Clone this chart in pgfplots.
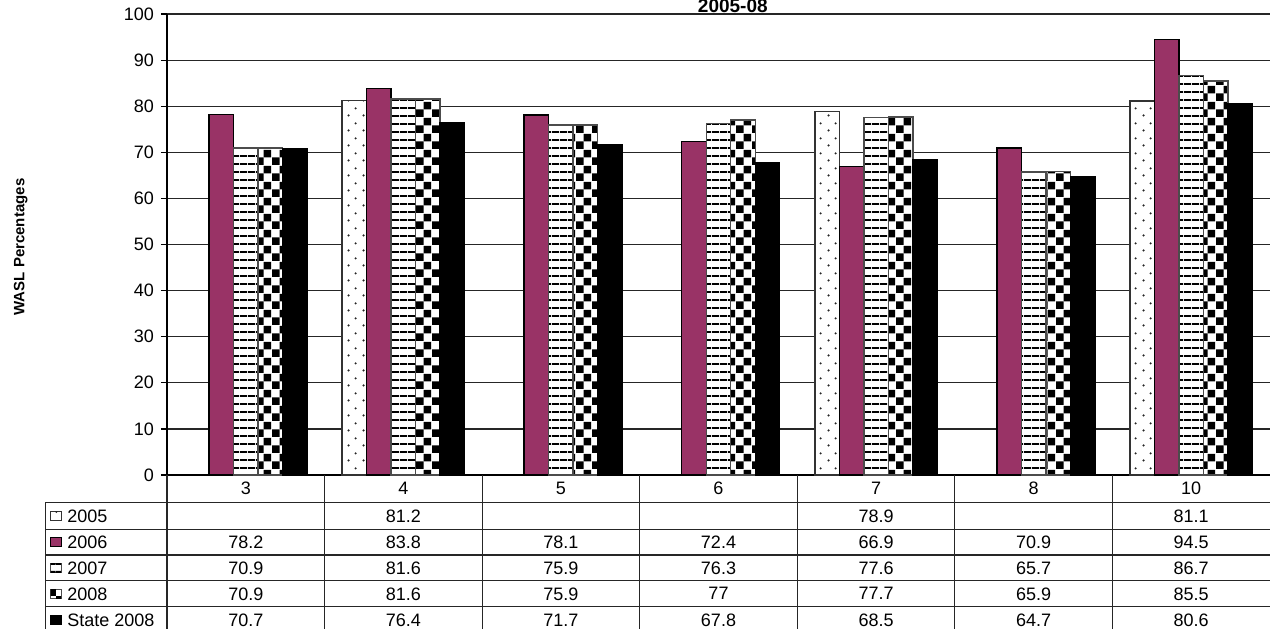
\documentclass[border=0pt]{standalone}
\usepackage{pgfplots}
\pgfplotsset{compat=1.18}
\usepackage{fontspec}
\setmainfont{Liberation Sans}
\usetikzlibrary{patterns.meta}

\definecolor{plum}{HTML}{993366}

% fills of the bars
\tikzdeclarepattern{name=sdots, tile size={(7.5pt,7.5pt)},
  bottom left={(0pt,0pt)}, top right={(7.5pt,7.5pt)},
  code={\fill (1.9pt,1.9pt) circle (0.65pt); \fill (5.65pt,5.65pt) circle (0.65pt);}}
\tikzdeclarepattern{name=hstripes, tile size={(4pt,4pt)},
  bottom left={(0pt,0pt)}, top right={(4pt,4pt)},
  code={\fill (0pt,0pt) rectangle (4pt,1.1pt);}}
\tikzdeclarepattern{name=checker, tile size={(8pt,8pt)},
  bottom left={(0pt,0pt)}, top right={(8pt,8pt)},
  code={\fill (0pt,0pt) rectangle (4pt,4pt); \fill (4pt,4pt) rectangle (8pt,8pt);}}

\tikzset{
  s2005/.style={fill=white, draw=black!80, postaction={pattern=sdots, pattern color=black!85}},
  s2006/.style={fill=plum, draw=black},
  s2007/.style={fill=white, draw=black!70, postaction={pattern=hstripes, pattern color=black}},
  s2008/.style={fill=white, draw=black!70, postaction={pattern=checker, pattern color=black}},
  sstate/.style={fill=black, draw=black},
}

\begin{document}
\begin{tikzpicture}
\begin{axis}[
  at={(0pt,0pt)}, anchor=south west,
  scale only axis, width=551.5pt, height=230.5pt,
  xmin=-0.5, xmax=6.5, ymin=0, ymax=100,
  ybar=0pt, bar width=12.25pt,
  axis lines=left, axis line style={-, black, line width=0.6pt},
  xtick={0,...,6}, xticklabels={3,4,5,6,7,8,10},
  x tick style={draw=none},
  xticklabel style={anchor=center, yshift=-3.5pt},
  ytick={0,10,...,100},
  tick align=outside, major tick length=3pt,
  y tick style={black, line width=0.6pt},
  ymajorgrids, grid style={black!85, line width=0.6pt},
  tick label style={font=\fontsize{9}{10}\selectfont},
  yticklabel style={/pgf/number format/assume math mode=true},
  title={2005-08},
  title style={at={(axis description cs:0.513,1)}, anchor=base, yshift=-5.4pt,
    font=\bfseries\fontsize{9.5}{11}\selectfont},
  ylabel={WASL Percentages},
  ylabel style={at={(axis description cs:-0.1325,0.4946)}, anchor=center,
    font=\bfseries\fontsize{7.5}{9}\selectfont},
  every axis plot/.append style={line width=0.7pt},
  clip=false,
]
\addplot[s2005] coordinates {(1,81.2) (4,78.9) (6,81.1)};
\addplot[s2006] coordinates {(0,78.2) (1,83.8) (2,78.1) (3,72.4) (4,66.9) (5,70.9) (6,94.5)};
\addplot[s2007] coordinates {(0,70.9) (1,81.6) (2,75.9) (3,76.3) (4,77.6) (5,65.7) (6,86.7)};
\addplot[s2008] coordinates {(0,70.9) (1,81.6) (2,75.9) (3,77.0) (4,77.7) (5,65.9) (6,85.5)};
\addplot[sstate] coordinates {(0,70.7) (1,76.4) (2,71.7) (3,67.8) (4,68.5) (5,64.7) (6,80.6)};
\end{axis}

% data table under the plot
\def\cw{78.786}
\begin{scope}[black!85, line width=0.6pt]
  \foreach \k in {0,...,6} \draw (\k*\cw pt,0pt) -- (\k*\cw pt,-78pt);
  \draw (-60.65pt,-13.65pt) -- (-60.65pt,-78pt);
  \foreach \y in {-13.65,-27.1,-40,-52.85,-65.85}
    \draw (-60.65pt,\y pt) -- (551.5pt,\y pt);
\end{scope}
\tikzset{cell/.style={font=\fontsize{9}{10}\selectfont, anchor=center, inner sep=0pt}}
\foreach \lab/\sty/\y/\vals in {
    2005/s2005/-20.4/{{},81.2,{},{},78.9,{},81.1},
    2006/s2006/-33.5/{78.2,83.8,78.1,72.4,66.9,70.9,94.5},
    2007/s2007/-46.5/{70.9,81.6,75.9,76.3,77.6,65.7,86.7},
    2008/s2008/-59.4/{70.9,81.6,75.9,77,77.7,65.9,85.5},
    State 2008/sstate/-72.5/{70.7,76.4,71.7,67.8,68.5,64.7,80.6}} {
  \path[\sty, line width=0.5pt] (-58.15pt,\y pt-2.4pt) rectangle (-52.9pt,\y pt+2.4pt);
  \node[cell, anchor=west] at (-50pt,\y pt) {\lab};
  \foreach \v [count=\c from 0] in \vals
    \node[cell] at ({(\c+0.5)*\cw pt},\y pt) {\v};
}

\pgfresetboundingbox
\useasboundingbox (-83.5pt,-76.5pt) rectangle (551.5pt,237.5pt);
\end{tikzpicture}
\end{document}
